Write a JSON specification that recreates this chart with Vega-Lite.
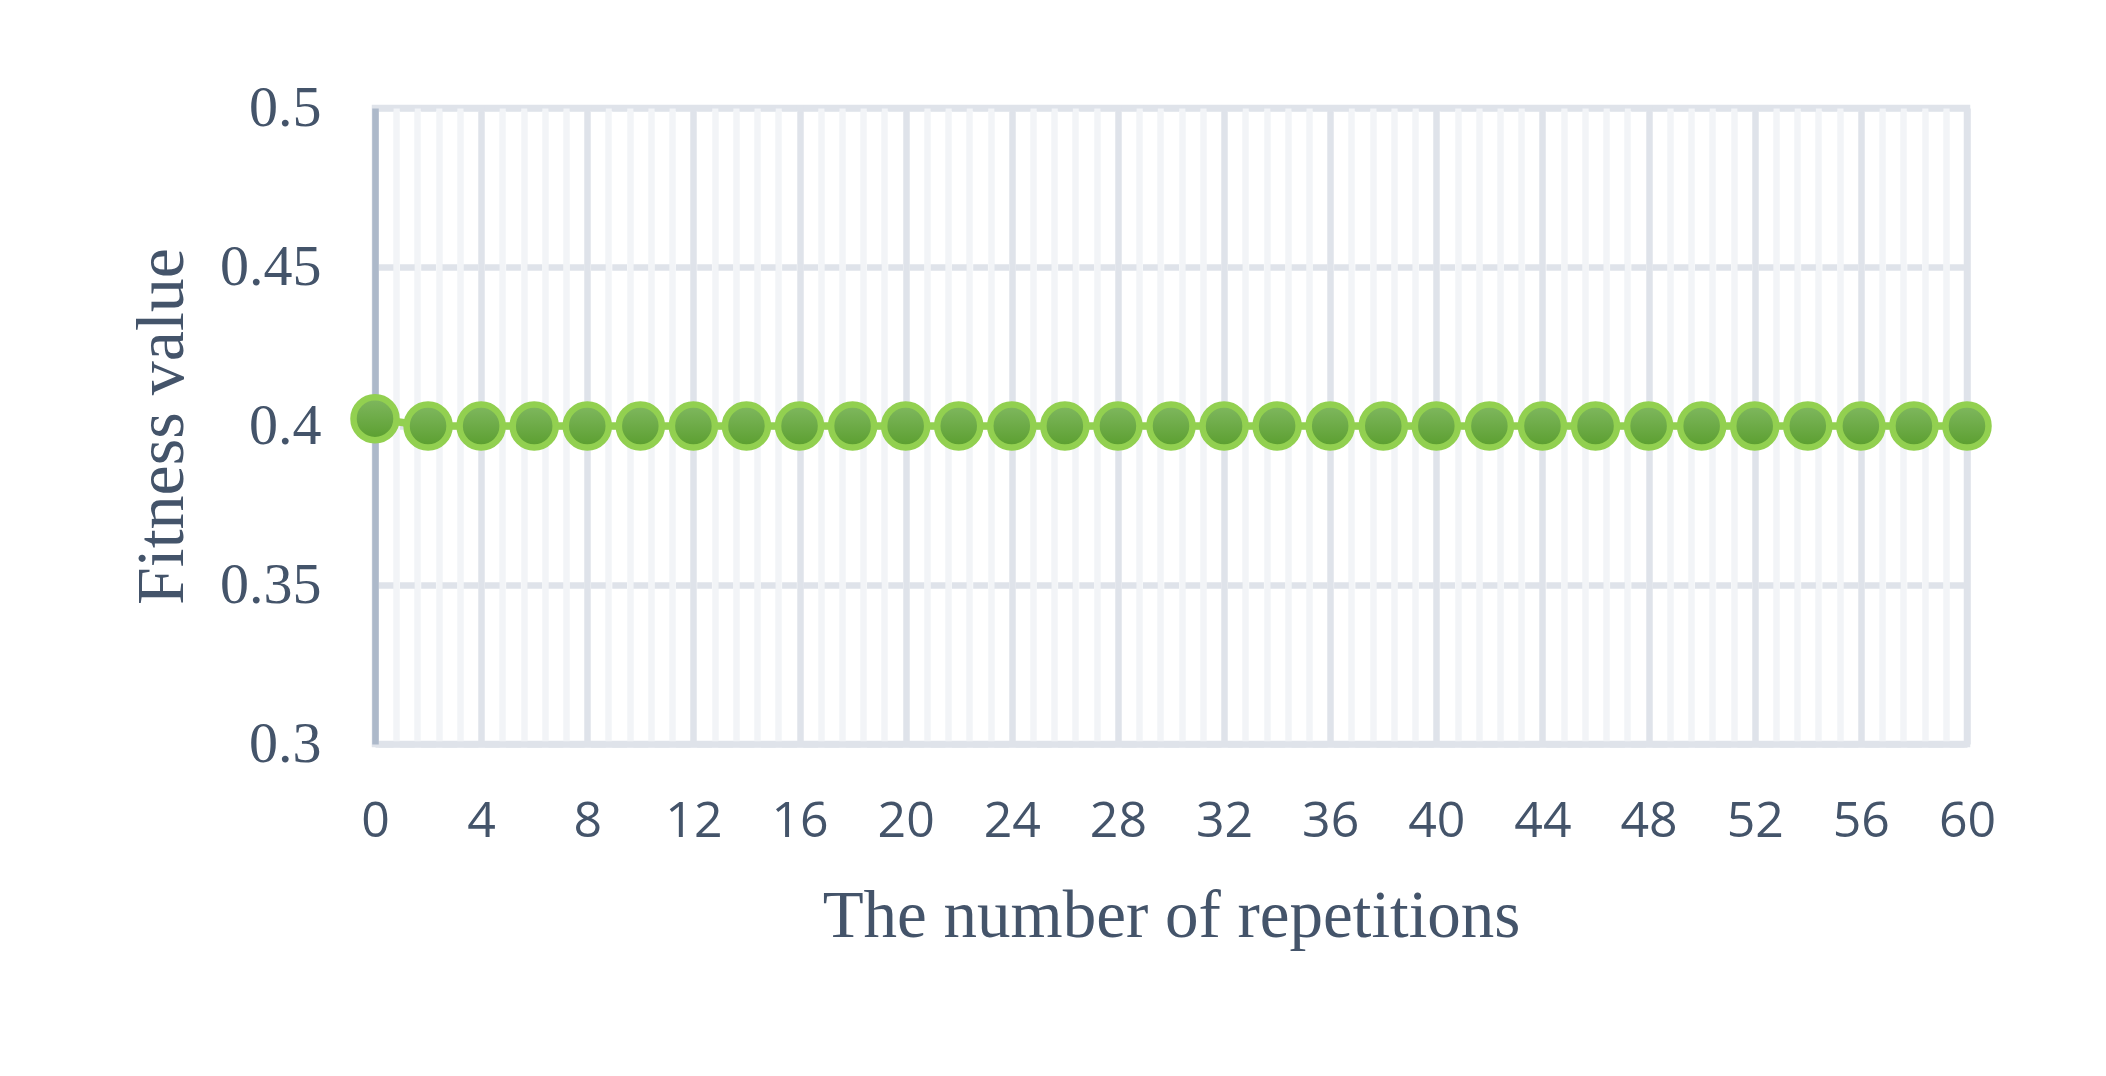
{
  "$schema": "https://vega.github.io/schema/vega-lite/v6.json",
  "width": 1592,
  "height": 636,
  "autosize": {"type": "none"},
  "padding": {"left": 375, "top": 108, "right": 139, "bottom": 332},
  "background": "white",
  "config": {"view": {"stroke": "#dfe3ea", "strokeWidth": 6.5}},
  "data": {
    "values": [
      {"rep": 0, "fitness": 0.4023},
      {"rep": 2, "fitness": 0.4},
      {"rep": 4, "fitness": 0.4},
      {"rep": 6, "fitness": 0.4},
      {"rep": 8, "fitness": 0.4},
      {"rep": 10, "fitness": 0.4},
      {"rep": 12, "fitness": 0.4},
      {"rep": 14, "fitness": 0.4},
      {"rep": 16, "fitness": 0.4},
      {"rep": 18, "fitness": 0.4},
      {"rep": 20, "fitness": 0.4},
      {"rep": 22, "fitness": 0.4},
      {"rep": 24, "fitness": 0.4},
      {"rep": 26, "fitness": 0.4},
      {"rep": 28, "fitness": 0.4},
      {"rep": 30, "fitness": 0.4},
      {"rep": 32, "fitness": 0.4},
      {"rep": 34, "fitness": 0.4},
      {"rep": 36, "fitness": 0.4},
      {"rep": 38, "fitness": 0.4},
      {"rep": 40, "fitness": 0.4},
      {"rep": 42, "fitness": 0.4},
      {"rep": 44, "fitness": 0.4},
      {"rep": 46, "fitness": 0.4},
      {"rep": 48, "fitness": 0.4},
      {"rep": 50, "fitness": 0.4},
      {"rep": 52, "fitness": 0.4},
      {"rep": 54, "fitness": 0.4},
      {"rep": 56, "fitness": 0.4},
      {"rep": 58, "fitness": 0.4},
      {"rep": 60, "fitness": 0.4}
    ]
  },
  "resolve": {"axis": {"x": "independent", "y": "independent"}},
  "layer": [
    {
      "mark": {"type": "line", "color": "#92d050", "strokeWidth": 7.5},
      "encoding": {
        "x": {
          "field": "rep",
          "type": "quantitative",
          "scale": {"domain": [0, 60], "nice": false, "zero": false},
          "axis": {
            "orient": "bottom",
            "values": [0.8,1.6,2.4,3.2,4.8,5.6,6.4,7.2,8.8,9.6,10.4,11.2,12.8,13.6,14.4,15.2,16.8,17.6,18.4,19.2,20.8,21.6,22.4,23.2,24.8,25.6,26.4,27.2,28.8,29.6,30.4,31.2,32.8,33.6,34.4,35.2,36.8,37.6,38.4,39.2,40.8,41.6,42.4,43.2,44.8,45.6,46.4,47.2,48.8,49.6,50.4,51.2,52.8,53.6,54.4,55.2,56.8,57.6,58.4,59.2],
            "grid": true,
            "gridColor": "#f2f4f7",
            "gridWidth": 6.5,
            "domain": false,
            "ticks": false,
            "labels": false,
            "title": null
          }
        },
        "y": {
          "field": "fitness",
          "type": "quantitative",
          "scale": {"domain": [0.3, 0.5], "nice": false, "zero": false},
          "axis": null
        }
      }
    },
    {
      "mark": {
        "type": "point",
        "filled": true,
        "opacity": 1,
        "size": 1850,
        "fill": {
          "gradient": "linear",
          "x1": 0, "y1": 0, "x2": 0, "y2": 1,
          "stops": [
            {"offset": 0, "color": "#80b860"},
            {"offset": 1, "color": "#5a9e2e"}
          ]
        },
        "stroke": "#92d050",
        "strokeWidth": 6.5
      },
      "encoding": {
        "x": {
          "field": "rep",
          "type": "quantitative",
          "axis": {
            "orient": "bottom",
            "values": [0,4,8,12,16,20,24,28,32,36,40,44,48,52,56,60],
            "format": "d",
            "grid": true,
            "gridColor": "#dfe3ea",
            "gridWidth": 6.5,
            "domain": true,
            "domainColor": "#dfe3ea",
            "domainWidth": 6.5,
            "ticks": false,
            "tickSize": 0,
            "labelFont": "Open Sans",
            "labelFontSize": 50,
            "labelColor": "#44546a",
            "labelPadding": 52,
            "labelFlush": false,
            "labelOverlap": false,
            "title": "The number of repetitions",
            "titleFont": "Liberation Serif",
            "titleFontSize": 67,
            "titleFontWeight": "normal",
            "titleColor": "#44546a",
            "titlePadding": 37
          }
        },
        "y": {
          "field": "fitness",
          "type": "quantitative",
          "axis": {
            "orient": "left",
            "values": [0.3, 0.35, 0.4, 0.45, 0.5],
            "format": "~g",
            "grid": true,
            "gridColor": "#dfe3ea",
            "gridWidth": 6.5,
            "gridDash": [14.73, 6.5],
            "gridDashOffset": 17.98,
            "domain": true,
            "domainColor": "#adb9ca",
            "domainWidth": 6.5,
            "ticks": false,
            "tickSize": 0,
            "labelFont": "Liberation Serif",
            "labelFontSize": 58,
            "labelColor": "#44546a",
            "labelPadding": 54,
            "labelFlush": false,
            "labelOverlap": false,
            "title": "Fitness value",
            "titleFont": "Liberation Serif",
            "titleFontSize": 68,
            "titleFontWeight": "normal",
            "titleColor": "#44546a",
            "titlePadding": 23
          }
        }
      }
    }
  ]
}
